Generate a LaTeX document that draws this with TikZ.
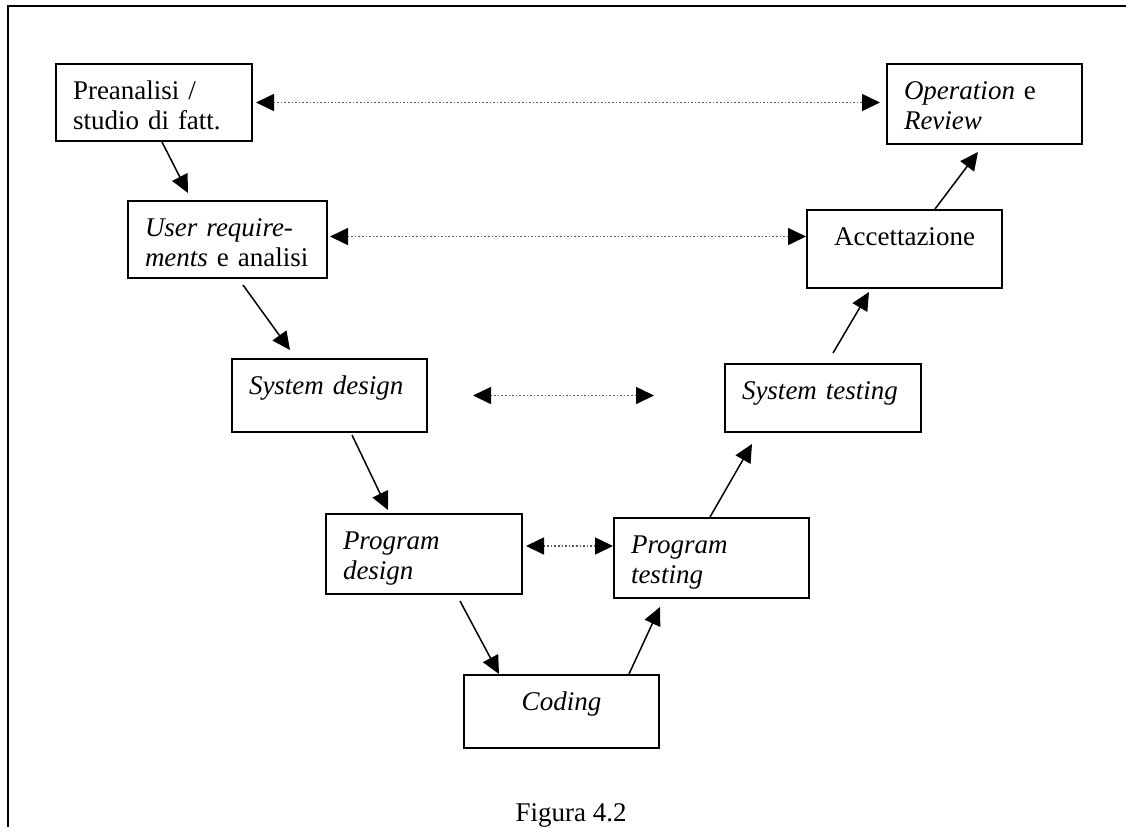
\documentclass[tikz,border=0pt]{standalone}
\usepackage{fontspec}
\setmainfont{Liberation Serif}
\usetikzlibrary{arrows.meta,calc}

\tikzset{
  stage/.style 2 args={draw, line width=1pt, anchor=north west, align=left,
    inner xsep=8.5pt, inner ysep=0pt, text height=17.5pt,
    text width=#1, text depth=#2, font=\fontsize{13.5}{15}\selectfont},
  flow/.style={-{Triangle[length=9pt,width=8.5pt]}, line width=0.75pt},
  link/.style={{Triangle[length=9pt,width=8.5pt,color=black]}-{Triangle[length=9pt,width=8.5pt,color=black]},
    densely dotted, line width=0.8pt, black!65}
}

\begin{document}
\begin{tikzpicture}[x=0.5pt,y=-0.5pt]
\useasboundingbox (0,0) rectangle (1126,827);
\draw [line width=1pt] (8,827) -- (8,6) -- (1126,6);

\node [stage={81pt}{21pt}] (pre) at (55,63) {Preanalisi /\\studio di fatt.};
\node [stage={82.5pt}{21pt}] (ureq) at (127,200) {\textit{User require-}\\\textit{ments} e analisi};
\node [stage={80.5pt}{19pt}] (sysd) at (231,358) {\textit{System design}};
\node [stage={81pt}{22.5pt}] (progd) at (325,513) {\textit{Program}\\\textit{design}};
\node [stage={80.5pt}{19pt}, align=center] (cod) at (463,674) {\textit{Coding}};
\node [stage={80.5pt}{22.5pt}] (progt) at (613,517) {\textit{Program}\\\textit{testing}};
\node [stage={81pt}{16.5pt}] (syst) at (724,363) {\textit{System testing}};
\node [stage={80.5pt}{21.5pt}, align=center] (acc) at (806,209) {Accettazione};
\node [stage={80.5pt}{22.5pt}] (oper) at (886,63) {\textit{Operation} e\\\textit{Review}};

% ramo di sinistra
\draw [flow] ($(pre.south west)+(107,0)$) -- ($(ureq.north west)+(61,-7)$);
\draw [flow] ($(ureq.south west)+(116,6)$) -- ($(sysd.north west)+(59,-8)$);
\draw [flow] ($(sysd.south west)+(121,2)$) -- ($(progd.north west)+(63,-3)$);
\draw [flow] ($(progd.south west)+(135,6)$) -- ($(cod.north west)+(36,0)$);
% ramo di destra
\draw [flow] ($(cod.north west)+(166,0)$) -- ($(progt.south west)+(47,8)$);
\draw [flow] ($(progt.north west)+(97,0)$) -- ($(syst.south west)+(28,11)$);
\draw [flow] ($(syst.north west)+(109,-10)$) -- ($(acc.south west)+(63,3)$);
\draw [flow] ($(acc.north west)+(129,0)$) -- ($(oper.south west)+(92,7)$);

% corrispondenze
\draw [link] ($(pre.east)+(3,0)$) -- ($(pre.east -| oper.west)+(-6,0)$);
\draw [link] ($(ureq.east)+(2,-3)$) -- ($(ureq.east -| acc.west)+(0,-3)$);
\draw [link] ($(sysd.east)+(45,0)$) -- ($(sysd.east -| syst.west)+(-70,0)$);
\draw [link] ($(progd.east)+(3,-8)$) -- ($(progd.east -| progt.west)+(0,-8)$);

\node [font=\fontsize{13.5}{15}\selectfont, anchor=base] (cap) at (571,821) {Figura 4.2};
\end{tikzpicture}
\end{document}
